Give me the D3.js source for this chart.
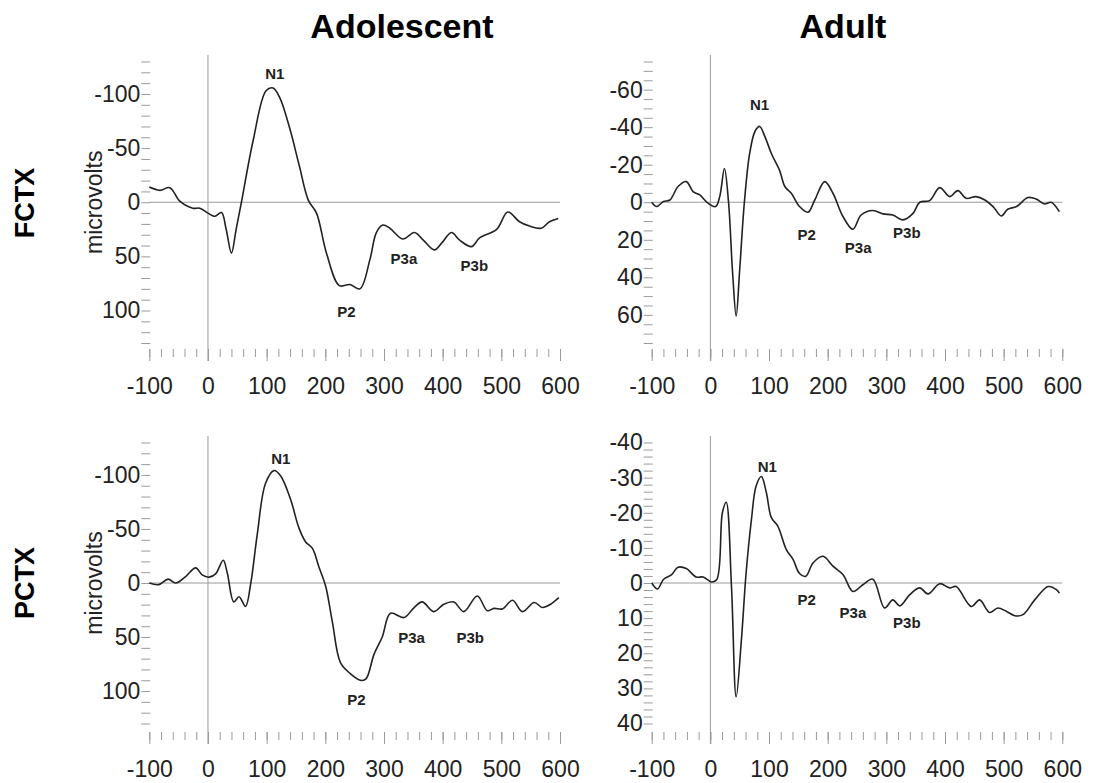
<!DOCTYPE html>
<html>
<head>
<meta charset="utf-8">
<script src="https://cdn.jsdelivr.net/npm/d3@7"></script>
<style>
  body { margin: 0; background: #fff; }
  svg { display: block; font-family: "Liberation Sans", Arial, sans-serif; }
  .tick line { stroke: #9a9a9a; }
  .tick text { fill: #222; }
</style>
</head>
<body>
<div id="chart"></div>
<script>
// ERP waveforms, time in ms, amplitude in microvolts (negative up)
const xTicks = [-100, 0, 100, 200, 300, 400, 500, 600];

const adolFctxT = [-100, -82, -65, -48, -26, -14, 0, 11, 23, 31, 40, 48, 57, 77, 99, 111, 122, 139, 156, 171, 185, 202, 224, 242, 259, 276, 287, 298, 310, 332, 352, 367, 386, 398, 415, 429, 449, 463, 492, 511, 531, 548, 568, 582, 597];
const adolFctxV = [-14, -11, -13.5, -1, 5.5, 5.5, 10, 13, 9.5, 25, 47, 25, 0, -57, -103, -105.5, -97, -69, -33, -2, 10, 47, 77, 76, 80, 53, 28, 21, 24, 34, 28, 35, 44, 38, 28, 35, 41, 33, 25, 9, 18, 22, 24, 18, 15];

const adultFctxT = [-100, -91.5, -80, -69, -55, -41, -29.5, -18, -4, 9, 16, 24, 31, 38, 44, 50, 58, 67, 76, 84, 93, 104, 118, 127, 138, 152, 166.5, 178, 195, 209, 226, 243, 257, 277, 294, 311, 328, 345.5, 357, 374, 391, 408, 422, 436, 453, 468, 482, 496, 507, 522, 541.5, 556, 570, 581, 595];
const adultFctxV = [0, 2.3, -0.4, -1.2, -8.4, -11, -5.7, -3.9, 0.5, 2.3, -3, -18, 0, 38, 60.6, 36, 0, -26, -37.7, -40.4, -35, -26, -17, -8.4, -4.8, 2.3, 5.3, -1.2, -11, -4.8, 7.6, 14.4, 6.8, 4.4, 6.2, 6.8, 9.4, 5.9, 0, -0.9, -7.8, -3, -6.2, -2.1, -3, -1.2, 2.3, 7.3, 3.7, 2.3, -2.5, -1.6, 0.9, 0, 5];

const adolPctxT = [-100, -84, -68, -55, -38, -21, -10, 2, 13, 26, 33, 44, 53, 64, 73, 84, 98, 112.5, 124, 141, 155, 166.5, 178, 189, 200.6, 212, 226, 243, 260, 269, 283, 297, 311, 334, 351, 365, 385, 402, 419, 436, 459, 476, 487.5, 502, 519, 536, 556, 570, 584, 598];
const adolPctxV = [0, 1.5, -3.6, 0, -6, -14, -7.5, -5.4, -8.4, -21, -9, 17.5, 12.7, 21.7, 0, -45, -92, -104, -99, -77, -51, -38, -32, -15, 3, 36, 74, 84, 90, 89, 66, 50, 28, 32, 23, 17.5, 26.5, 19.6, 17.5, 26.5, 12, 25.6, 23.5, 24, 16, 26.5, 18, 22.6, 19.6, 13.6];

const adultPctxT = [-100, -90, -80, -66, -55, -41, -24, -12.5, 2, 11, 20.5, 27, 36, 44, 53, 61, 70, 78, 87, 95.5, 104, 115, 129.5, 141, 152, 162.5, 175, 192, 209, 226, 243, 260, 277, 297, 311, 323, 340, 357, 371, 391, 408, 419, 445, 459, 476, 490, 505, 519, 533, 553, 576, 590, 595];
const adultPctxV = [0, 1.7, -1, -2.4, -4.5, -4.1, -1.7, -1.7, -0.3, -1, -20, -23, 1, 32.4, 16, -3, -18, -27.6, -30.3, -25.7, -18.6, -16.2, -9.5, -6.7, -2.7, -1.9, -5.7, -7.6, -4.8, -2.4, 2.4, 0.5, -1.1, 7.1, 4.8, 6.5, 3.3, 1.4, 3.1, 0.2, 1.4, 1, 6.7, 4.8, 8.4, 7.1, 8.1, 9.3, 9, 4.8, 1, 1.9, 2.9];

// component labels, placed at [ms, microvolts]
const peakNames = ["N1", "P2", "P3a", "P3b"];
const adolFctxPeaks = [[114, -119], [236, 101], [334, 52.6], [454, 58.4]];
const adultFctxPeaks = [[84, -52], [164, 17.4], [252, 24.5], [335, 16.5]];
const adolPctxPeaks = [[124, -115], [253, 108], [347, 50.6], [447, 50.6]];
const adultPctxPeaks = [[97, -33], [164, 4.8], [243, 8.4], [335, 11.4]];

const colTitles = ["Adolescent", "Adult"];
const rowTitles = ["FCTX", "PCTX"];

const W = 1096, H = 783;
const colX = [[149.3, 560], [651.7, 1062.3]];
const rowY = [[61.5, 343], [442.5, 723.5]];

const panels = [
  { row: 0, col: 0, t: adolFctxT, v: adolFctxV, peaks: adolFctxPeaks, lim: 130, minor: 10, major: [-100, -50, 0, 50, 100], ylab: true },
  { row: 0, col: 1, t: adultFctxT, v: adultFctxV, peaks: adultFctxPeaks, lim: 75, minor: 5, major: [-60, -40, -20, 0, 20, 40, 60], ylab: false },
  { row: 1, col: 0, t: adolPctxT, v: adolPctxV, peaks: adolPctxPeaks, lim: 130, minor: 10, major: [-100, -50, 0, 50, 100], ylab: true },
  { row: 1, col: 1, t: adultPctxT, v: adultPctxV, peaks: adultPctxPeaks, lim: 40, minor: 2, major: [-40, -30, -20, -10, 0, 10, 20, 30, 40], ylab: false }
];

const svg = d3.select("#chart").append("svg")
  .attr("width", W)
  .attr("height", H);

// column titles
svg.selectAll(".coltitle")
  .data(colTitles)
  .enter()
  .append("text")
  .attr("x", (d, i) => [402, 843][i])
  .attr("y", 38)
  .attr("text-anchor", "middle")
  .attr("font-size", 34)
  .attr("font-weight", "bold")
  .text(d => d);

// row titles
svg.selectAll(".rowtitle")
  .data(rowTitles)
  .enter()
  .append("text")
  .attr("transform", (d, i) => `translate(34,${[203, 583][i]}) rotate(-90)`)
  .attr("text-anchor", "middle")
  .attr("font-size", 27)
  .attr("font-weight", "bold")
  .text(d => d);

panels.forEach(p => {
  const x = d3.scaleLinear().domain([-100, 600]).range(colX[p.col]);
  const y = d3.scaleLinear().domain([-p.lim, p.lim]).range(rowY[p.row]);
  const g = svg.append("g");
  const axisY = p.row === 0 ? 349 : 732;
  const lineTop = p.row === 0 ? 55 : 436;

  // zero line and stimulus onset line
  g.append("line")
    .attr("x1", x(-100)).attr("x2", x(600))
    .attr("y1", y(0)).attr("y2", y(0))
    .attr("stroke", "#9a9a9a").attr("stroke-width", 1);
  g.append("line")
    .attr("x1", x(0)).attr("x2", x(0))
    .attr("y1", lineTop).attr("y2", axisY + 12)
    .attr("stroke", "#9a9a9a").attr("stroke-width", 1);

  // y axis: ticks every minor step, labels at majors
  const yVals = d3.range(-p.lim, p.lim + 0.001, p.minor);
  const yAxis = g.append("g")
    .attr("transform", `translate(${x(-100) + 1},0)`)
    .call(d3.axisLeft(y).tickValues(yVals).tickSize(9).tickPadding(1)
      .tickFormat(d => p.major.includes(Math.round(d)) ? String(Math.round(d)) : ""));
  yAxis.select(".domain").remove();
  yAxis.selectAll("text").attr("font-size", 23).attr("font-family", null);

  // x axis: minor ticks every 20 ms, major at 100 ms
  const xMinor = g.append("g")
    .attr("transform", `translate(0,${axisY})`)
    .call(d3.axisBottom(x).tickValues(d3.range(-100, 601, 20)).tickSize(8).tickFormat(""));
  xMinor.select(".domain").remove();
  const xMajor = g.append("g")
    .attr("transform", `translate(0,${axisY})`)
    .call(d3.axisBottom(x).tickValues(xTicks).tickSize(12).tickPadding(17).tickFormat(d => String(d)));
  xMajor.select(".domain").remove();
  xMajor.selectAll("text").attr("font-size", 23).attr("font-family", null);

  if (p.ylab) {
    g.append("text")
      .attr("transform", `translate(102,${y(0)}) rotate(-90)`)
      .attr("text-anchor", "middle")
      .attr("font-size", 23)
      .attr("fill", "#222")
      .text("microvolts");
  }

  // waveform
  const line = d3.line()
    .x((d, i) => x(p.t[i]))
    .y(d => y(d))
    .curve(d3.curveCatmullRom.alpha(0.5));
  g.append("path")
    .datum(p.v)
    .attr("d", line)
    .attr("fill", "none")
    .attr("stroke", "#222")
    .attr("stroke-width", 1.6);

  // component labels
  g.selectAll(".peak")
    .data(p.peaks)
    .enter()
    .append("text")
    .attr("x", d => x(d[0]))
    .attr("y", d => y(d[1]))
    .attr("dy", ".35em")
    .attr("text-anchor", "middle")
    .attr("font-size", 15)
    .attr("font-weight", "bold")
    .attr("fill", "#222")
    .text((d, i) => peakNames[i]);
});
</script>
</body>
</html>
